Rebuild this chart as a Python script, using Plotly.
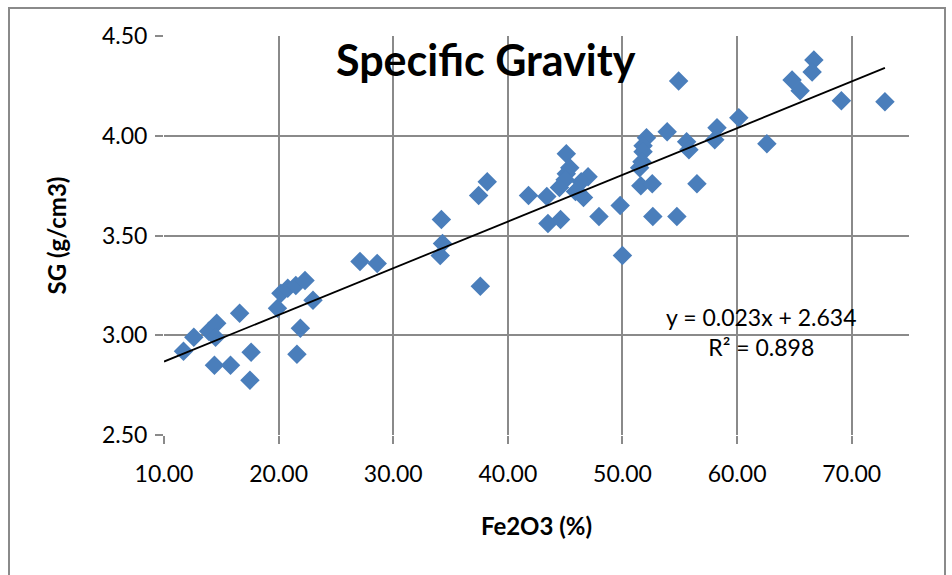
import plotly.graph_objects as go

# Data
fe2o3 = [11.7, 12.6, 13.9, 14.6, 14.5, 14.4, 15.8, 16.6, 17.6, 17.5,
         19.9, 20.2, 20.8, 21.5, 22.3, 23.0, 21.9, 21.6,
         27.1, 28.6, 34.2, 34.3, 34.1, 37.6, 37.45, 38.2,
         41.8, 43.4, 43.5, 44.6, 45.1, 45.4, 45.1, 45.0, 44.5, 47.0,
         46.4, 45.9, 46.6, 47.95, 49.8, 50.0,
         51.6, 52.6, 52.65, 54.75, 52.1, 51.8, 51.8, 51.7, 51.5, 53.9,
         55.6, 55.8, 56.5, 58.25, 58.05, 54.9,
         60.15, 62.6, 64.8, 65.5, 66.7, 66.55, 69.1, 72.9]
sg = [2.92, 2.99, 3.02, 3.06, 2.99, 2.85, 2.85, 3.11, 2.915, 2.775,
      3.135, 3.21, 3.235, 3.25, 3.275, 3.175, 3.035, 2.905,
      3.37, 3.36, 3.58, 3.46, 3.40, 3.245, 3.70, 3.77,
      3.70, 3.695, 3.56, 3.58, 3.91, 3.84, 3.81, 3.78, 3.74, 3.795,
      3.77, 3.72, 3.69, 3.595, 3.65, 3.40,
      3.75, 3.76, 3.595, 3.595, 3.99, 3.95, 3.92, 3.87, 3.84, 4.02,
      3.97, 3.93, 3.76, 4.04, 3.98, 4.275,
      4.09, 3.96, 4.28, 4.225, 4.38, 4.32, 4.175, 4.17]

slope = 0.0234
intercept = 2.634
trend_x = [10.0, 72.9]
x_ticks = [10, 20, 30, 40, 50, 60, 70]
y_ticks = [2.5, 3.0, 3.5, 4.0, 4.5]

trend_y = [slope * v + intercept for v in trend_x]

W, H = 952, 575
ML, MR, MT, MB = 164, 43, 36, 140

FONT = "Lato"
GRID = "#8a8a8a"

fig = go.Figure()
fig.add_trace(go.Scatter(
    x=fe2o3, y=sg, mode="markers",
    marker=dict(symbol="diamond", size=15, color="#4a7ebb", line=dict(width=0)),
    showlegend=False, hoverinfo="x+y"))
fig.add_trace(go.Scatter(
    x=trend_x, y=trend_y, mode="lines",
    line=dict(color="black", width=1.8), showlegend=False, hoverinfo="skip"))

fig.update_layout(
    width=W, height=H,
    margin=dict(l=ML, r=MR, t=MT, b=MB),
    paper_bgcolor="white", plot_bgcolor="white",
    font=dict(family=FONT, color="black", size=23),
    xaxis=dict(range=[10, 75], tickvals=x_ticks, tickformat=".2f",
               showgrid=True, gridcolor=GRID, gridwidth=2,
               zeroline=False, showline=False,
               ticks="outside", ticklen=8, tickwidth=2, tickcolor=GRID,
               ticklabelstandoff=10,
               title=dict(text="<b>Fe2O3 (%)</b>", font=dict(size=24), standoff=32)),
    yaxis=dict(range=[2.5, 4.5], tickvals=y_ticks, tickformat=".2f",
               showgrid=True, gridcolor=GRID, gridwidth=2,
               zeroline=False, showline=False,
               ticks="outside", ticklen=8, tickwidth=2, tickcolor=GRID,
               ticklabelstandoff=3,
               title=dict(text="<b>SG (g/cm3)</b>", font=dict(size=24), standoff=28)),
)

# Chart title
fig.add_annotation(text="<b>Specific Gravity</b>", xref="paper", yref="paper",
                   x=(486 - ML) / (W - ML - MR), y=1 - (59 - MT) / (H - MT - MB),
                   xanchor="center", yanchor="middle", showarrow=False,
                   font=dict(size=43, family=FONT))

# Trendline equation
fig.add_annotation(text=f"y = {slope:.3f}x + {intercept:.3f}<br>R² = 0.898",
                   xref="paper", yref="paper",
                   x=(761 - ML) / (W - ML - MR), y=1 - (332 - MT) / (H - MT - MB),
                   xanchor="center", yanchor="middle", showarrow=False,
                   align="center", font=dict(size=23, family=FONT))

# Outer chart border
pw, ph = W - ML - MR, H - MT - MB
def px2paper_x(px):
    return (px - ML) / pw
def px2paper_y(py):
    return 1 - (py - MT) / ph
fig.add_shape(type="rect", xref="paper", yref="paper",
              x0=px2paper_x(9), x1=px2paper_x(945),
              y0=px2paper_y(590), y1=px2paper_y(8),
              line=dict(color="#8a8a8a", width=2), fillcolor="rgba(0,0,0,0)",
              layer="below")

fig.write_html("out.html")
